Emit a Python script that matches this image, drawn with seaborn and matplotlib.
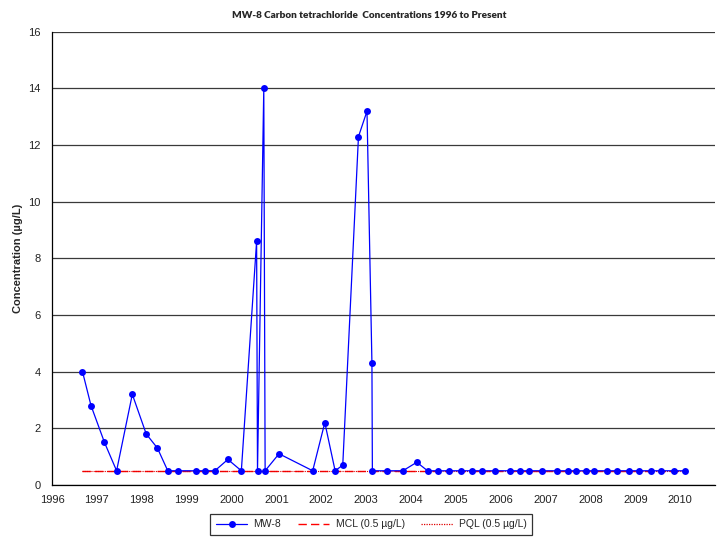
import matplotlib
matplotlib.use("Agg")
import matplotlib.pyplot as plt
import seaborn as sns
import numpy as np
import pandas as pd
from matplotlib.ticker import MultipleLocator, FormatStrFormatter
from matplotlib.lines import Line2D

# sample dates (decimal years) and MW-8 carbon tetrachloride results (ug/L)
dates = [1996.68, 1996.87, 1997.17, 1997.44, 1997.79, 1998.10, 1998.35, 1998.58,
         1998.80, 1999.21, 1999.41, 1999.63, 1999.92, 2000.22, 2000.56, 2000.58,
         2000.72, 2000.75, 2001.06, 2001.81, 2002.08, 2002.31, 2002.48, 2002.83,
         2003.02, 2003.13, 2003.14, 2003.47, 2003.82, 2004.13, 2004.37, 2004.61,
         2004.85, 2005.11, 2005.37, 2005.59, 2005.87, 2006.21, 2006.43, 2006.64,
         2006.91, 2007.25, 2007.50, 2007.67, 2007.89, 2008.09, 2008.37, 2008.59,
         2008.85, 2009.08, 2009.36, 2009.57, 2009.86, 2010.11]
mw8 = [4.0, 2.8, 1.5, 0.5, 3.2, 1.8, 1.3, 0.5,
       0.5, 0.5, 0.5, 0.5, 0.9, 0.5, 8.6, 0.5,
       14.0, 0.5, 1.1, 0.5, 2.2, 0.5, 0.7, 12.3,
       13.2, 4.3, 0.5, 0.5, 0.5, 0.8, 0.5, 0.5,
       0.5, 0.5, 0.5, 0.5, 0.5, 0.5, 0.5, 0.5,
       0.5, 0.5, 0.5, 0.5, 0.5, 0.5, 0.5, 0.5,
       0.5, 0.5, 0.5, 0.5, 0.5, 0.5]
mcl = 0.5
pql = 0.5
year_ticks = list(range(1996, 2011))
y_ticks = list(range(0, 17, 2))

df = pd.DataFrame({"date": dates, "MW-8": mw8})
limits = pd.DataFrame({"date": [dates[0], dates[-1]],
                       "MCL": [mcl, mcl], "PQL": [pql, pql]})

sns.set_style("white")
plt.rcParams["font.family"] = ["Liberation Sans", "DejaVu Sans"]

fig = plt.figure(figsize=(7.17, 5.4), dpi=100)
ax = fig.add_axes([0.0725, 0.102, 0.925, 0.839])

sns.lineplot(data=limits, x="date", y="MCL", ax=ax, color="#ff0000",
             linewidth=1.0, dashes=False, linestyle=(0, (6, 3)), zorder=2)
sns.lineplot(data=limits, x="date", y="PQL", ax=ax, color="#e00000",
             linewidth=0.8, linestyle=(0, (1, 1)), zorder=2)
sns.lineplot(data=df, x="date", y="MW-8", ax=ax, color="#0000ff",
             linewidth=0.9, marker="o", markersize=5, markeredgewidth=0,
             estimator=None, sort=False, zorder=3)

ax.set_xlim(1996, 2010.78)
ax.set_ylim(0, 16)
ax.set_xticks(year_ticks)
ax.xaxis.set_major_formatter(FormatStrFormatter("%d"))
ax.xaxis.set_minor_locator(MultipleLocator(0.25))
ax.set_yticks(y_ticks)

ax.yaxis.grid(True, color="#3a3a3a", linewidth=0.9)
ax.set_axisbelow(True)
for side in ["top", "right"]:
    ax.spines[side].set_visible(False)
for side in ["left", "bottom"]:
    ax.spines[side].set_color("black")
    ax.spines[side].set_linewidth(0.9)

ax.tick_params(axis="x", which="major", direction="out", length=4,
               width=0.8, color="black", labelsize=8, pad=3)
ax.tick_params(axis="x", which="minor", direction="inout", length=4,
               width=0.6, color="black")
ax.tick_params(axis="y", which="major", direction="out", length=4,
               width=0.8, color="black", labelsize=8, pad=4)
ax.tick_params(labelcolor="#222222")

ax.set_xlabel("")
ax.set_ylabel("Concentration (µg/L)", fontsize=8, fontweight="bold", labelpad=4)
fig.text(0.515, 0.972, "MW-8 Carbon tetrachloride  Concentrations 1996 to Present",
         ha="center", va="center", fontsize=7.2, fontweight="heavy",
         family=["Lato", "DejaVu Sans"])

handles = [
    Line2D([], [], color="#0000ff", linewidth=0.9, marker="o", markersize=5,
           markeredgewidth=0),
    Line2D([], [], color="#ff0000", linewidth=1.0, linestyle=(0, (6, 3))),
    Line2D([], [], color="#e00000", linewidth=0.9, linestyle=(0, (1, 1))),
]
leg = fig.legend(handles, ["MW-8", "MCL (0.5 µg/L)", "PQL (0.5 µg/L)"],
                 loc="center", bbox_to_anchor=(0.518, 0.029), ncol=3,
                 fontsize=7.5, frameon=True, fancybox=False, handlelength=3,
                 columnspacing=1.6, borderpad=0.55, handletextpad=0.6,
                 borderaxespad=0)
leg.get_frame().set_edgecolor("black")
leg.get_frame().set_linewidth(0.9)

fig.savefig("out.png", dpi=100)
